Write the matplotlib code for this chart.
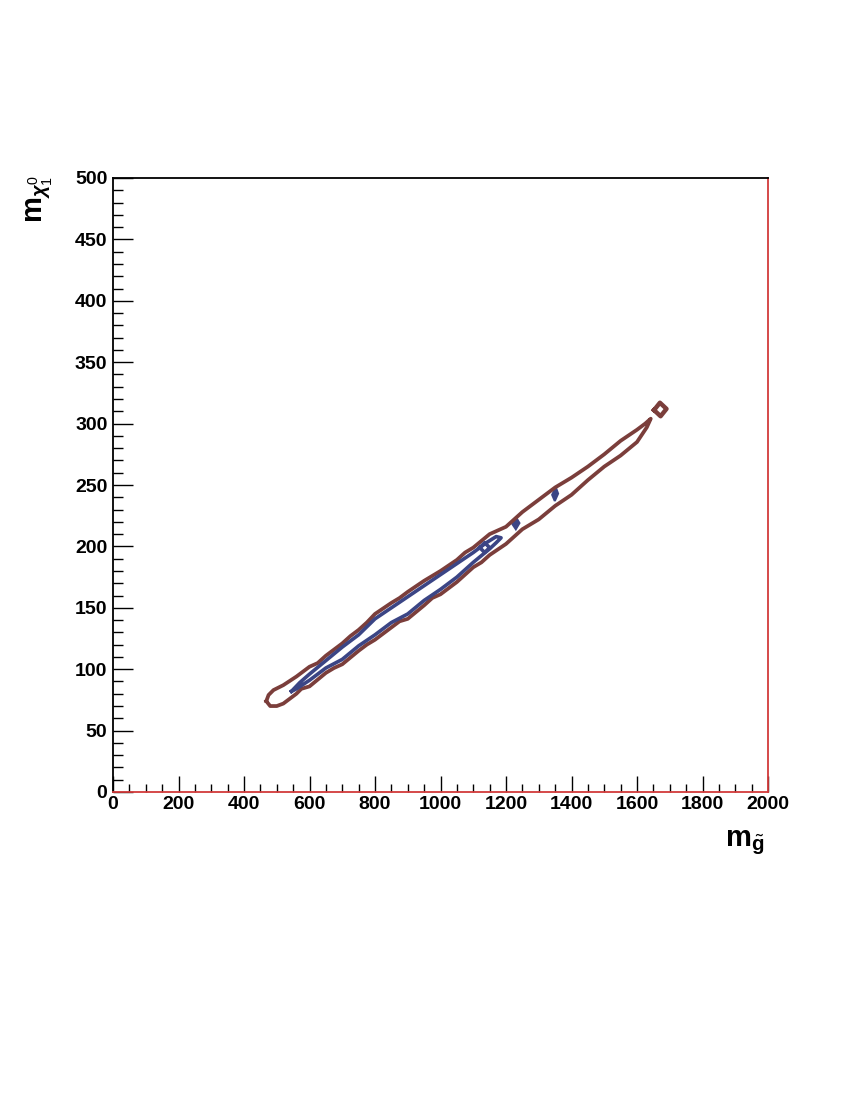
import matplotlib
matplotlib.use("Agg")
import matplotlib.pyplot as plt
import numpy as np

plt.rcParams['font.family'] = ['Liberation Sans', 'DejaVu Sans']
plt.rcParams['mathtext.fontset'] = 'custom'
plt.rcParams['mathtext.rm'] = 'Liberation Sans'
plt.rcParams['mathtext.bf'] = 'Liberation Sans:bold'
plt.rcParams['mathtext.it'] = 'Liberation Sans:italic:bold'

# outer (brown) contour, upper edge left->right then lower edge right->left
outer_upper_x = [468, 475, 490, 520, 560, 600, 625, 650, 700, 725, 750, 775, 800, 850, 875, 900, 950,
                 1000, 1050, 1075, 1100, 1150, 1200, 1250, 1300, 1350, 1400, 1450, 1500, 1550, 1600, 1625, 1642]
outer_upper_y = [74, 79, 83, 87, 94, 102, 105, 111, 121, 127, 132, 138, 145, 154, 158, 163, 172,
                 180, 189, 195, 199, 210, 216, 228, 238, 248, 256, 265, 275, 286, 295, 300, 304]
outer_lower_x = [1642, 1630, 1600, 1550, 1500, 1450, 1400, 1350, 1300, 1250, 1200, 1150, 1125, 1100,
                 1050, 1000, 975, 950, 900, 875, 850, 800, 775, 750, 700, 675, 650, 600, 575, 560,
                 540, 520, 500, 480, 468]
outer_lower_y = [304, 297, 285, 274, 265, 254, 242, 233, 222, 214, 202, 193, 187, 183,
                 171, 161, 158, 152, 141, 139, 134, 124, 120, 115, 104, 101, 97, 86, 84, 80,
                 76, 72, 70, 70, 74]

# inner (blue) contour
inner_upper_x = [545, 570, 600, 650, 700, 750, 800, 850, 900, 950, 1000, 1050, 1100, 1140, 1170, 1185]
inner_upper_y = [82, 89, 96, 107, 118, 128, 141, 150, 159, 168, 177, 186, 195, 203, 208, 207]
inner_lower_x = [1185, 1170, 1150, 1100, 1050, 1000, 950, 900, 850, 800, 750, 700, 650, 600, 560, 545]
inner_lower_y = [207, 203, 198, 187, 175, 165, 156, 145, 138, 128, 119, 108, 101, 91, 84, 82]

# small islands
island_x = [1120, 1135, 1150, 1135, 1120]
island_y = [199, 203, 199, 195, 199]
blob1_x = [1220, 1232, 1241, 1230, 1220]
blob1_y = [218, 223, 219, 214, 218]
blob2_x = [1341, 1352, 1359, 1349, 1341]
blob2_y = [242, 248, 243, 237, 242]
diamond_x = [1652, 1670, 1690, 1672, 1652]
diamond_y = [311, 317, 312, 306, 311]

brown = '#7b3e3b'
blue = '#3b4585'

fig = plt.figure(figsize=(8.5, 11), dpi=100)
ax = fig.add_axes([113/850, 308/1100, 655/850, 614/1100])

ax.plot(outer_upper_x + outer_lower_x, outer_upper_y + outer_lower_y, color=brown, lw=2.7)
ax.plot(inner_upper_x + inner_lower_x, inner_upper_y + inner_lower_y, color=blue, lw=2.6)
ax.plot(island_x, island_y, color=blue, lw=2.6)
ax.fill(blob1_x, blob1_y, color=blue, lw=1.5)
ax.fill(blob2_x, blob2_y, color=blue, lw=1.5)
ax.plot(diamond_x, diamond_y, color=brown, lw=3.2)

ax.set_xlim(0, 2000)
ax.set_ylim(0, 500)
ax.set_xticks(np.arange(0, 2001, 200))
ax.set_xticks(np.arange(0, 2001, 50), minor=True)
ax.set_yticks(np.arange(0, 501, 50))
ax.set_yticks(np.arange(0, 501, 10), minor=True)

ax.tick_params(axis='x', which='major', direction='in', length=11.5, width=1, pad=3, labelsize=14)
ax.tick_params(axis='x', which='minor', direction='in', length=5.8, width=1)
ax.tick_params(axis='y', which='major', direction='in', length=14.5, width=1, pad=4, labelsize=14)
ax.tick_params(axis='y', which='minor', direction='in', length=7.2, width=1)
for lab in ax.get_xticklabels() + ax.get_yticklabels():
    lab.set_fontweight('bold')

ax.spines['left'].set_color('black')
ax.spines['top'].set_color('black')
ax.spines['bottom'].set_color('#d23a3a')
ax.spines['right'].set_color('#d23a3a')
for s in ax.spines.values():
    s.set_linewidth(1.3)

fig.text(764/850, 1 - 843/1100, r'$\mathbf{m}_{\tilde{\mathbf{g}}}$', fontsize=21,
         ha='right', va='center')
fig.text(40/850, 1 - 175/1100, r'$\mathbf{m}_{\chi^{0}_{1}}$', fontsize=21,
         ha='center', va='top', rotation=90)

fig.savefig('out.png', dpi=100)
